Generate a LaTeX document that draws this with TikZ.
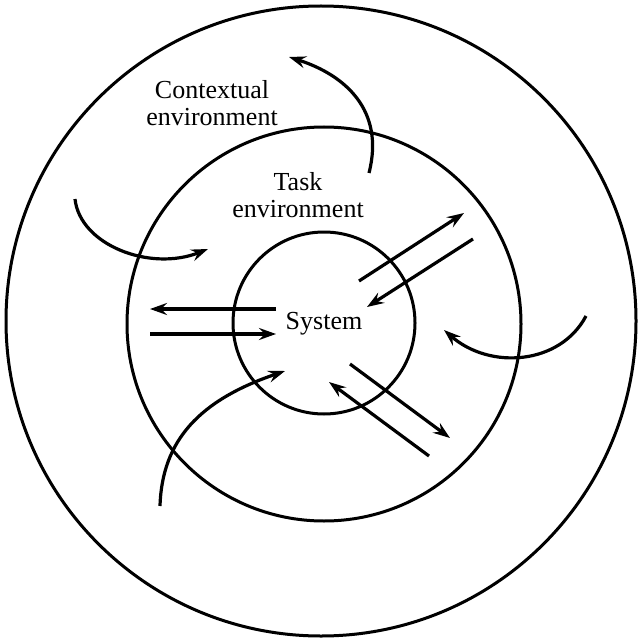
\documentclass[tikz,border=0pt]{standalone}
\usepackage{fontspec}
\setmainfont{Liberation Serif}
\usetikzlibrary{arrows.meta}
\begin{document}
\begin{tikzpicture}[x=1pt,y=-1pt,
  ring/.style={line width=3pt},
  flow/.style={line width=3.2pt,-{Stealth[length=17pt,width=12pt,inset=6pt]}},
  label/.style={font=\fontsize{26}{27}\selectfont,align=center,inner sep=0pt}]
\useasboundingbox (0,0) rectangle (638,639);

% environment rings and the system
\coordinate (octr) at (321,321);
\coordinate (tctr) at (324,324);
\coordinate (sctr) at (324,323);
\draw[ring] (octr) circle (315);
\draw[ring] (tctr) circle (197);
\draw[ring] (sctr) circle (91);

% labels
\node[label] (ctx) at (212,103) {Contextual\\environment};
\node[label] (task) at (298,195) {Task\\environment};
\node[label] (sys) at (324,324) {System};

% end points of the connectors
\coordinate (a1s) at (369,173);  \coordinate (a1e) at (289,57);
\coordinate (a2s) at (75,199);   \coordinate (a2e) at (208,249);
\coordinate (a3s) at (276,309);  \coordinate (a3e) at (150,309);
\coordinate (a4s) at (150,334);  \coordinate (a4e) at (276,334);
\coordinate (a5s) at (359,281);  \coordinate (a5e) at (464,213);
\coordinate (a6s) at (473,239);  \coordinate (a6e) at (367,307);
\coordinate (a7s) at (586,316);  \coordinate (a7e) at (444,330);
\coordinate (a8s) at (350,364);  \coordinate (a8e) at (450,438);
\coordinate (a9s) at (429,456);  \coordinate (a9e) at (329,382);
\coordinate (a10s) at (160,506); \coordinate (a10e) at (285,371);

% curved influences
\draw[flow] (a1s) .. controls (385,110) and (345,75) .. (a1e);
\draw[flow] (a2s) .. controls (80,245) and (150,272) .. (a2e);
\draw[flow] (a7s) .. controls (560,365) and (490,370) .. (a7e);
\draw[flow] (a10s) .. controls (162,440) and (200,400) .. (a10e);

% straight exchanges
\draw[flow] (a3s) -- (a3e);
\draw[flow] (a4s) -- (a4e);
\draw[flow] (a5s) -- (a5e);
\draw[flow] (a6s) -- (a6e);
\draw[flow] (a8s) -- (a8e);
\draw[flow] (a9s) -- (a9e);
\end{tikzpicture}
\end{document}
